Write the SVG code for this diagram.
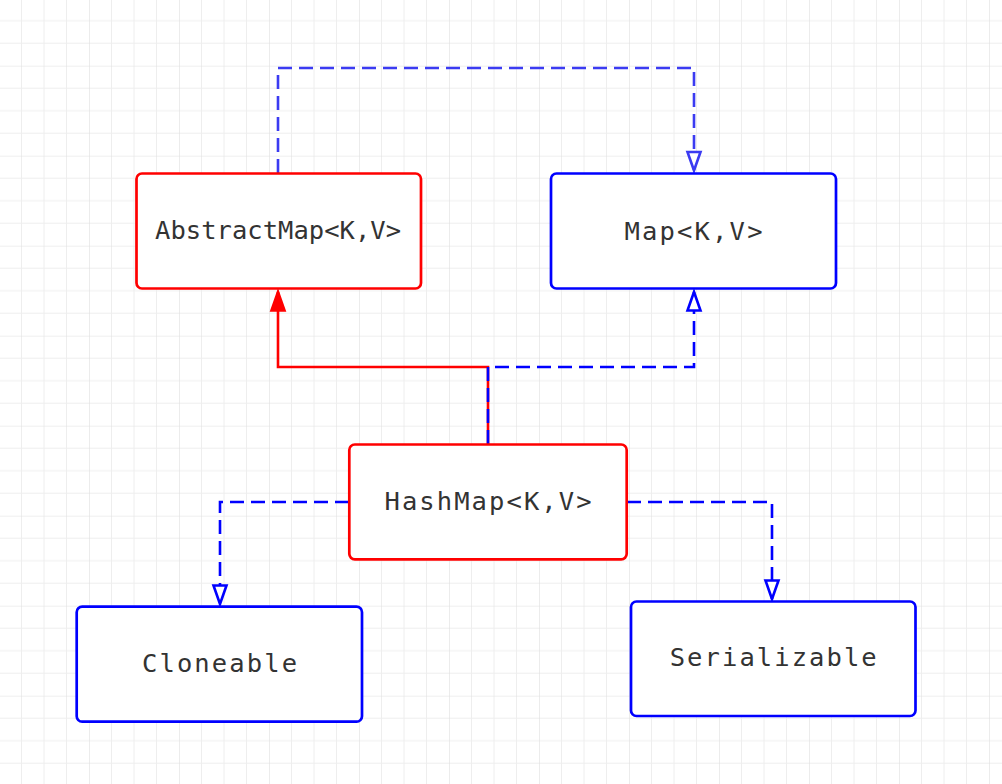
<svg xmlns="http://www.w3.org/2000/svg" width="1002" height="784" viewBox="0 0 1002 784">
<style>
  .box { fill: #ffffff; stroke-width: 2.7; }
  .red { stroke: #ff0000; }
  .blue { stroke: #0000ff; }
  .lbl { font-family: "DejaVu Sans Mono", "Liberation Mono", monospace; font-size: 25.5px; fill: #333333; text-anchor: middle; }
  .conn { fill: none; stroke-width: 2.6; stroke-linejoin: miter; }
  .dash { stroke-dasharray: 14 7; }
</style>
<defs>
  <pattern id="grid" x="-1" y="-24.3" width="90" height="90" patternUnits="userSpaceOnUse">
    <path d="M22.5 0V90M45 0V90M67.5 0V90M0 22.5H90M0 45H90M0 67.5H90" stroke="#eeeeee" stroke-width="1" fill="none"/>
    <path d="M0 0V90M0 0H90" stroke="#e0e0e0" stroke-width="1.2" fill="none"/>
  </pattern>
  <marker id="hollowBlue" markerUnits="userSpaceOnUse" orient="auto" refX="0" refY="0" markerWidth="30" markerHeight="30" overflow="visible">
    <polygon points="0,0 -18.5,-6.5 -18.5,6.5" fill="#ffffff" stroke="#0000ff" stroke-width="2.6"/>
  </marker>
  <marker id="hollowLight" markerUnits="userSpaceOnUse" orient="auto" refX="0" refY="0" markerWidth="30" markerHeight="30" overflow="visible">
    <polygon points="0,0 -18.5,-6.5 -18.5,6.5" fill="#ffffff" stroke="#3b3bf2" stroke-width="2.6"/>
  </marker>
  <marker id="filledRed" markerUnits="userSpaceOnUse" orient="auto" refX="0" refY="0" markerWidth="30" markerHeight="30" overflow="visible">
    <polygon points="0,0 -18.5,-6.5 -18.5,6.5" fill="#ff0000" stroke="#ff0000" stroke-width="2.6"/>
  </marker>
</defs>
<rect x="0" y="0" width="1002" height="784" fill="#ffffff"/>
<rect x="0" y="0" width="1002" height="784" fill="url(#grid)"/>

<g id="connectors">
  <path id="e-hash-abstract" class="conn red" d="M488 444 V367 H278 V292" marker-end="url(#filledRed)"/>
  <path id="e-abstract-map" class="conn dash" stroke="#3b3bf2" d="M278 173 V68 H694 V170.5" marker-end="url(#hollowLight)"/>
  <path id="e-hash-map" class="conn dash blue" d="M488 444 V367 H694 V292" marker-end="url(#hollowBlue)"/>
  <path id="e-hash-cloneable" class="conn dash blue" d="M349 502 H220 V604" marker-end="url(#hollowBlue)"/>
  <path id="e-hash-serializable" class="conn dash blue" d="M627 502 H772 V599" marker-end="url(#hollowBlue)"/>
</g>

<g id="node-abstractmap">
  <rect class="box red" x="136.5" y="173.5" width="284.5" height="115" rx="5.5"/>
  <text class="lbl" x="278" y="239" textLength="246" lengthAdjust="spacing">AbstractMap&lt;K,V&gt;</text>
</g>
<g id="node-map">
  <rect class="box blue" x="551" y="173.5" width="285" height="115" rx="5.5"/>
  <text class="lbl" x="693.5" y="239.5" textLength="138" lengthAdjust="spacing">Map&lt;K,V&gt;</text>
</g>
<g id="node-hashmap">
  <rect class="box red" x="349.3" y="444.5" width="277.4" height="114.8" rx="5.5"/>
  <text class="lbl" x="488" y="510" textLength="207" lengthAdjust="spacing">HashMap&lt;K,V&gt;</text>
</g>
<g id="node-cloneable">
  <rect class="box blue" x="76.7" y="606.7" width="285.3" height="115" rx="5.5"/>
  <text class="lbl" x="219.5" y="672.2" textLength="155" lengthAdjust="spacing">Cloneable</text>
</g>
<g id="node-serializable">
  <rect class="box blue" x="631" y="601.5" width="284.5" height="114.5" rx="5.5"/>
  <text class="lbl" x="773.2" y="666" textLength="207" lengthAdjust="spacing">Serializable</text>
</g>
</svg>
